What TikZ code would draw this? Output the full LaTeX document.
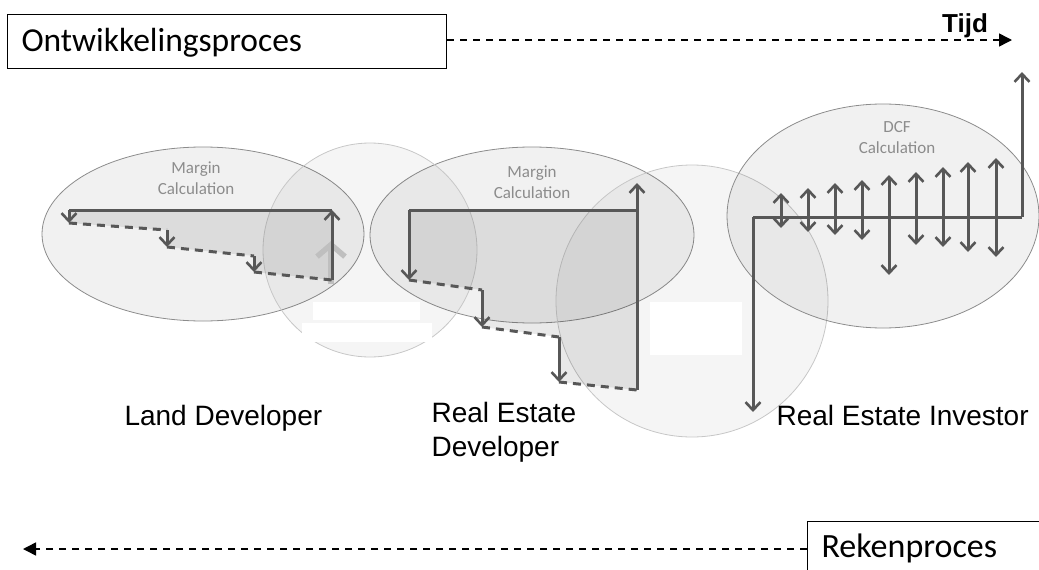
\documentclass[tikz,border=0pt]{standalone}
\usepackage{fontspec}
\setmainfont{Liberation Sans}
\newfontfamily\calfont{Carlito}
\usetikzlibrary{arrows.meta,shapes.geometric}
\definecolor{cf}{HTML}{575757}
\definecolor{lbl}{HTML}{8C8C8C}
\begin{document}
\begin{tikzpicture}[x=1pt,y=-1pt,
  ell/.style={ellipse, draw=black!45, line width=0.8pt, fill=black, fill opacity=0.055, draw opacity=1, inner sep=0},
  circ/.style={circle, draw=black!22, line width=0.8pt, fill=black, fill opacity=0.04, draw opacity=1, inner sep=0},
  mask/.style={fill=white, draw=none, inner sep=0, anchor=north west},
  area/.style={fill=black, fill opacity=0.085, draw=none},
  flow/.style={draw=cf, line width=3pt},
  flowarrow/.style={flow, -{Straight Barb[length=8pt,width=15pt,line width=2.6pt]}},
  dblarrow/.style={flow, {Straight Barb[length=8pt,width=15pt,line width=2.6pt]}-{Straight Barb[length=8pt,width=15pt,line width=2.6pt]}},
  flowdash/.style={flow, dash pattern=on 8pt off 6pt},
  proc/.style={draw=black, line width=1.2pt, inner sep=0, anchor=north west},
  timeline/.style={draw=black, line width=1.5pt, dash pattern=on 7pt off 6pt, -{Triangle[length=13pt,width=13pt]}},
  calc/.style={font=\calfont\fontsize{17}{21}\selectfont, text=lbl, align=center},
  role/.style={font=\fontsize{28}{34}\selectfont, align=left}
]
\useasboundingbox (0,0) rectangle (1039,570);

% ellipses and circles
\node[ell, minimum width=322pt, minimum height=174pt] (e1) at (203,234) {};
\node[ell, minimum width=324pt, minimum height=176pt] (e2) at (532,235) {};
\node[circ, minimum size=214pt] (c1) at (370,250) {};
\node[circ, minimum size=272pt] (c2) at (692,301) {};
\node[ell, minimum width=312pt, minimum height=224pt] (e3) at (883,216) {};

% white patches
\node[mask, minimum width=107pt, minimum height=18pt] (m1) at (313,302) {};
\node[mask, minimum width=130pt, minimum height=19pt] (m2) at (302,323) {};
\node[mask, minimum width=92pt, minimum height=53pt] (m3) at (650,302) {};

% labels in ellipses
\node[calc] (t1) at (196,178) {Margin\\Calculation};
\node[calc] (t2) at (532,182) {Margin\\Calculation};
\node[calc] (t3) at (897,138) {DCF\\Calculation};

% ---------- Land developer ----------
\coordinate (a1) at (69,210);
\coordinate (a2) at (332,210);
\coordinate (a3) at (332,280);
\coordinate (a4) at (254,272);
\coordinate (a5) at (254,256);
\coordinate (a6) at (167,247);
\coordinate (a7) at (167,230);
\coordinate (a8) at (69,223);
\fill[area] (a1) -- (a2) -- (a3) -- (a4) -- (a5) -- (a6) -- (a7) -- (a8) -- cycle;
\coordinate (fa1) at (331,284);
\coordinate (fa2) at (331,241);
\draw[draw=black!25, line width=6pt, -{Straight Barb[length=12pt,width=28pt,line width=5.5pt]}] (fa1) -- (fa2);
\draw[flow] (a1) -- (a2);
\draw[flowarrow] (a1) -- (a8);
\draw[flowdash] (a8) -- (a7);
\draw[flowarrow] (a7) -- (a6);
\draw[flowdash] (a6) -- (a5);
\draw[flowarrow] (a5) -- (a4);
\draw[flowdash] (a4) -- (a3);
\draw[flowarrow] (a3) -- (a2);

% ---------- Real estate developer ----------
\coordinate (b1) at (409,210);
\coordinate (b2) at (637,210);
\coordinate (b2t) at (637,183);
\coordinate (b3) at (637,390);
\coordinate (b4) at (559,382);
\coordinate (b5) at (559,337);
\coordinate (b6) at (482,327);
\coordinate (b7) at (482,290);
\coordinate (b8) at (409,280);
\fill[area] (b1) -- (b2) -- (b3) -- (b4) -- (b5) -- (b6) -- (b7) -- (b8) -- cycle;
\draw[flow] (b1) -- (b2);
\draw[flowarrow] (b1) -- (b8);
\draw[flowdash] (b8) -- (b7);
\draw[flowarrow] (b7) -- (b6);
\draw[flowdash] (b6) -- (b5);
\draw[flowarrow] (b5) -- (b4);
\draw[flowdash] (b4) -- (b3);
\draw[flowarrow] (b3) -- (b2t);

% ---------- Real estate investor ----------
\coordinate (i1) at (753,217);
\coordinate (i2) at (1022,217);
\coordinate (i0) at (753,412);
\coordinate (i3) at (1022,72);
\draw[flow] (i1) -- (i2);
\draw[flowarrow] (i1) -- (i0);
\draw[flowarrow] (i2) -- (i3);
\foreach \x/\t/\b [count=\k] in {781/193/228, 808/188/232, 835/183/235, 862/180/240, 889/175/275, 916/172/245, 943/167/247, 968/162/252, 996/158/257}{
  \coordinate (d\k t) at (\x,\t);
  \coordinate (d\k b) at (\x,\b);
  \draw[dblarrow] (d\k b) -- (d\k t);
}

% role labels
\node[role, anchor=base west] (r1) at (121,425) {Land Developer};
\node[role, anchor=base west] (r2) at (428,422) {Real Estate};
\node[role, anchor=base west] (r2b) at (428,456) {Developer};
\node[role, anchor=base west] (r3) at (773,425) {Real Estate Investor};

% process boxes
\node[proc, minimum width=439pt, minimum height=54pt] (ob) at (7,14) {};
\node[anchor=base west, font=\calfont\fontsize{33.5}{38}\selectfont] (ot) at (18,51) {Ontwikkelingsproces};
\coordinate (tijd) at (1012,40);
\draw[timeline] (ob.east |- 0,40) -- (tijd);
\node[anchor=base, font=\bfseries\fontsize{26}{30}\selectfont] (tj) at (965,32) {Tijd};

\node[proc, minimum width=260pt, minimum height=60pt] (rb) at (807,521) {};
\node[anchor=base west, font=\calfont\fontsize{34}{38}\selectfont] (rt) at (818,557) {Rekenproces};
\coordinate (rek) at (23,549);
\draw[timeline] (rb.west |- 0,549) -- (rek);
\end{tikzpicture}
\end{document}
